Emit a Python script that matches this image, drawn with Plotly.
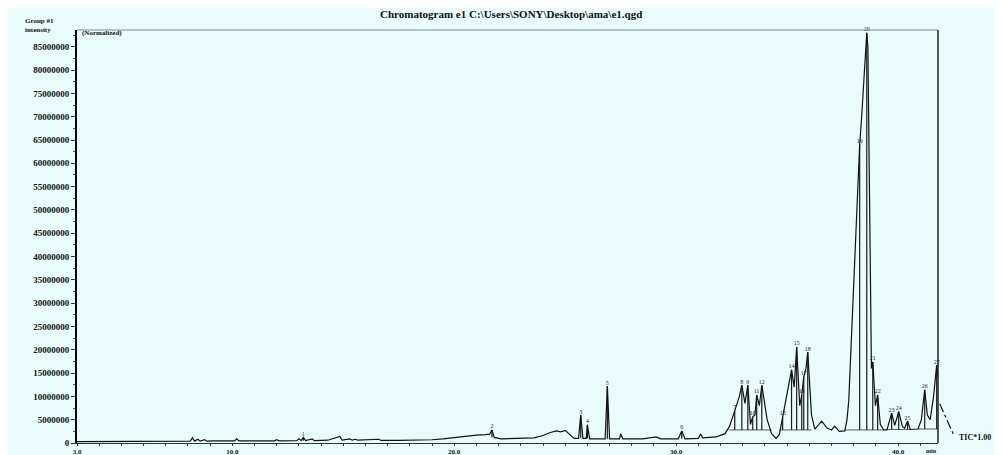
import plotly.graph_objects as go

# ---------------- data ----------------
# retention time (min) and TIC intensity (millions of counts)
time_min = [3.0, 4.0, 5.0, 6.0, 7.0, 7.9, 8.1, 8.2, 8.3, 8.45, 8.55, 8.75, 8.85, 9.2, 9.5,
            10.1, 10.2, 10.3, 11.0, 11.9, 12.0, 12.1, 12.9, 13.0, 13.1, 13.2, 13.3, 13.6, 13.7,
            14.2, 14.3, 14.85, 14.95, 15.3, 15.4, 15.55, 15.65, 16.6, 16.7, 17.5, 18.5, 19.0,
            19.5, 20.0, 20.5, 21.0, 21.4, 21.6, 21.7, 21.8, 22.1, 22.6, 23.3, 23.6, 24.0, 24.3,
            24.6, 24.8, 25.0, 25.2, 25.4, 25.6, 25.7, 25.8, 25.95, 26.0, 26.1, 26.8, 26.9, 27.0,
            27.45, 27.5, 27.6, 28.5, 29.1, 29.3, 30.1, 30.25, 30.4, 31.0, 31.1, 31.2, 31.8, 32.2,
            32.4, 32.64, 32.85, 32.96, 33.1, 33.23, 33.35, 33.45, 33.55, 33.63, 33.75, 33.86,
            34.1, 34.3, 34.5, 34.65, 34.8, 35.0, 35.2, 35.32, 35.43, 35.57, 35.66, 35.75, 35.85,
            35.93, 36.1, 36.25, 36.56, 36.8, 37.0, 37.14, 37.35, 37.6, 37.7, 37.78, 37.87, 37.96,
            38.05, 38.14, 38.27, 38.36, 38.45, 38.53, 38.59, 38.64, 38.7, 38.75, 38.8, 38.86,
            38.98, 39.08, 39.2, 39.35, 39.5, 39.71, 39.85, 40.03, 40.2, 40.3, 40.43, 40.55, 40.9,
            41.05, 41.2, 41.32, 41.45, 41.6, 41.74, 41.8]
intensity_m = [0.3, 0.3, 0.3, 0.35, 0.35, 0.4, 0.4, 1.1, 0.4, 0.8, 0.4, 0.7, 0.4, 0.45, 0.5,
               0.45, 0.9, 0.45, 0.45, 0.45, 0.7, 0.45, 0.5, 0.9, 0.5, 1.2, 0.5, 0.9, 0.5,
               0.6, 0.6, 1.4, 0.6, 0.9, 0.6, 0.8, 0.6, 0.8, 0.55, 0.55, 0.6, 0.7,
               0.9, 1.2, 1.5, 1.7, 1.8, 1.9, 2.8, 1.2, 0.9, 1.0, 1.2, 1.1, 1.6, 2.2,
               2.6, 2.4, 2.7, 1.9, 1.0, 1.0, 6.0, 1.0, 1.0, 3.9, 0.9, 0.9, 12.2, 0.9,
               0.9, 2.0, 0.9, 0.9, 1.3, 0.9, 0.9, 2.6, 0.9, 1.0, 1.9, 1.1, 1.3, 2.0,
               3.5, 6.9, 10.0, 12.4, 8.5, 12.4, 4.0, 5.6, 6.0, 10.3, 8.0, 12.4,
               5.0, 2.0, 1.0, 1.8, 5.6, 10.0, 15.7, 12.0, 20.6, 8.0, 10.3, 14.2, 16.0,
               19.5, 6.0, 3.0, 4.7, 3.2, 2.8, 3.6, 2.5, 2.6, 5.0, 9.2, 20.0, 30.7,
               41.0, 52.0, 64.0, 70.0, 77.0, 84.0, 88.0, 85.0, 60.0, 35.0, 16.0, 17.4,
               8.0, 10.3, 4.0, 2.8, 2.8, 6.4, 3.8, 6.7, 3.5, 3.2, 4.7, 2.9, 3.0,
               5.0, 11.4, 6.0, 5.0, 10.0, 16.7, 14.0]

# labelled (integrated) peaks
peak_time = [13.2, 21.7, 25.7, 26.0, 26.9, 30.25, 32.64, 32.96, 33.23, 33.45, 33.63, 33.86,
             34.8, 35.2, 35.43, 35.66, 35.75, 35.93, 38.27, 38.59, 38.86, 39.08, 39.71, 40.03,
             40.43, 41.2, 41.74]
peak_height_m = [1.2, 2.8, 6.0, 3.9, 12.2, 2.6, 6.9, 12.4, 12.4, 5.6, 10.3, 12.4,
                 5.6, 15.7, 20.6, 10.3, 14.2, 19.5, 64.0, 88.0, 17.4, 10.3, 6.4, 6.7,
                 4.7, 11.4, 16.7]
peak_base_m = [0.5, 1.2, 1.0, 1.0, 0.9, 0.9, 2.8, 2.8, 2.8, 2.8, 2.8, 2.8,
               2.8, 2.8, 2.8, 2.8, 2.8, 2.8, 2.8, 2.8, 2.8, 2.8, 2.9, 2.9,
               2.9, 3.0, 3.0]
peak_label = ["1", "2", "3", "4", "5", "6", "7", "8", "9", "10", "11", "12",
              "13", "14", "15", "16", "17", "18", "19", "20", "21", "22", "23", "24",
              "25", "26", "27"]

# integration baselines (start, end, level in millions)
base_start = [32.4, 34.65, 37.6, 39.5, 40.9]
base_end = [34.3, 36.1, 39.35, 40.55, 41.8]
base_level_m = [2.8, 2.8, 2.8, 2.9, 3.0]

x_tick_vals = [3.0, 10.0, 20.0, 30.0, 40.0]
x_tick_text = ["3.0", "10.0", "20.0", "30.0", "40.0"]
y_tick_vals_m = [0, 5, 10, 15, 20, 25, 30, 35, 40, 45, 50, 55, 60, 65, 70, 75, 80, 85]

SCALE = 1e6
intensity = [v * SCALE for v in intensity_m]
peak_height = [v * SCALE for v in peak_height_m]
peak_base = [v * SCALE for v in peak_base_m]
base_level = [v * SCALE for v in base_level_m]
y_tick_vals = [v * SCALE for v in y_tick_vals_m]
y_tick_text = [str(int(v)) for v in y_tick_vals]

# ---------------- figure ----------------
BG = "#E9FCFC"
FONT = "Liberation Serif"
INK = "#111111"

fig = go.Figure()

# drop lines from peak apex to baseline
dx, dy = [], []
for t, h, b in zip(peak_time, peak_height, peak_base):
    dx += [t, t, None]
    dy += [h, b, None]
fig.add_trace(go.Scatter(x=dx, y=dy, mode="lines",
                         line=dict(color="#1a1a1a", width=1.2),
                         hoverinfo="skip", showlegend=False))

# integration baselines
bx, by = [], []
for s, e, lv in zip(base_start, base_end, base_level):
    bx += [s, e, None]
    by += [lv, lv, None]
fig.add_trace(go.Scatter(x=bx, y=by, mode="lines",
                         line=dict(color="#333333", width=0.8),
                         hoverinfo="skip", showlegend=False))

# chromatogram
fig.add_trace(go.Scatter(x=time_min, y=intensity, mode="lines",
                         line=dict(color=INK, width=1.2),
                         showlegend=False, name="TIC"))

# peak labels
fig.add_trace(go.Scatter(x=peak_time, y=peak_height, mode="text", text=peak_label,
                         textposition="top center",
                         textfont=dict(family=FONT, size=6, color="#223"),
                         hoverinfo="skip", showlegend=False, cliponaxis=False))

# the page places the figure 8 px in from the top-left corner of the window
fig.update_layout(
    width=995, height=447,
    margin=dict(l=69, r=65, t=22, b=12),
    paper_bgcolor=BG, plot_bgcolor=BG,
    font=dict(family=FONT, color=INK),
    showlegend=False,
    xaxis=dict(range=[3.0, 41.8], tickvals=x_tick_vals, ticktext=x_tick_text,
               showgrid=False, zeroline=False, showline=True, linecolor="#333",
               linewidth=1, ticks="outside", ticklen=2, tickcolor="#333",
               ticklabelstandoff=0,
               tickfont=dict(family=FONT, size=7, color=INK, weight="bold"),
               minor=dict(dtick=1, tick0=3, ticks="outside", ticklen=2, tickcolor="#333"),
               automargin=False),
    yaxis=dict(range=[0, 88.6e6], tickvals=y_tick_vals, ticktext=y_tick_text,
               showgrid=False, zeroline=False, showline=True, linecolor="#000",
               linewidth=2, ticks="outside", ticklen=4, tickcolor="#333",
               tickfont=dict(family=FONT, size=9, color=INK, weight="bold"),
               minor=dict(dtick=2.5e6, ticks="outside", ticklen=2, tickcolor="#555"),
               automargin=False),
)

# frame: top and right borders
fig.add_shape(type="line", xref="paper", yref="paper", x0=0, x1=1, y0=1, y1=1,
              line=dict(color="#7d8c99", width=1))
fig.add_shape(type="line", xref="paper", yref="paper", x0=1, x1=1, y0=0, y1=1,
              line=dict(color="#222", width=1.5))
# continuation of the trace past the frame to the TIC label
fig.add_shape(type="line", xref="paper", yref="paper", x0=1.002, y0=0.095,
              x1=1.019, y1=0.016, line=dict(color=INK, width=1.2, dash="dashdot"))

fig.add_annotation(text="Chromatogram e1 C:\\Users\\SONY\\Desktop\\ama\\e1.qgd",
                   xref="paper", yref="paper", x=0.504, y=1.039, showarrow=False,
                   xanchor="center", yanchor="middle",
                   font=dict(family=FONT, size=11, color=INK, weight="bold"))
fig.add_annotation(text="Group #1<br>intensity", xref="paper", yref="paper",
                   x=-0.063, y=1.036, showarrow=False, xanchor="left", yanchor="top",
                   align="left", font=dict(family=FONT, size=7, color=INK, weight="bold"))
fig.add_annotation(text="(Normalized)", xref="paper", yref="paper", x=0.004, y=0.993,
                   showarrow=False, xanchor="left", yanchor="middle",
                   font=dict(family=FONT, size=7, color=INK, weight="bold"))
fig.add_annotation(text="TIC*1.00", xref="paper", yref="paper", x=1.022, y=0.0145,
                   showarrow=False, xanchor="left", yanchor="middle",
                   font=dict(family=FONT, size=8, color=INK, weight="bold"))
fig.add_annotation(text="min", xref="paper", yref="paper", x=0.993, y=-0.02,
                   showarrow=False, xanchor="center", yanchor="middle",
                   font=dict(family=FONT, size=6, color=INK, weight="bold"))

fig.write_html("out.html")
